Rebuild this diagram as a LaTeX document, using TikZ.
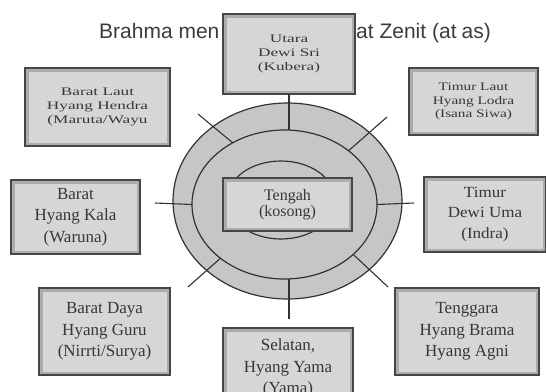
\documentclass[tikz,border=0pt]{standalone}
\usepackage{fontspec}
\setmainfont{Liberation Serif}
\newfontfamily\titlefont{Liberation Sans}
\newfontfamily\wideA[FakeStretch=1.5]{Liberation Serif}
\newfontfamily\wideB[FakeStretch=1.33]{Liberation Serif}
\newfontfamily\wideC[FakeStretch=1.1]{Liberation Serif}
\usetikzlibrary{shapes.geometric}
\definecolor{ringfill}{RGB}{198,198,198}
\definecolor{lineclr}{RGB}{50,50,50}
\definecolor{boxedge}{RGB}{70,70,70}
\definecolor{boxband}{RGB}{172,172,172}
\definecolor{boxin}{RGB}{214,214,214}
\definecolor{txt}{RGB}{55,55,55}
\definecolor{titleclr}{RGB}{60,60,60}
\tikzset{
  dbox/.style={rectangle, draw=boxedge, line width=1.3pt, fill=boxband,
    inner sep=0pt, outer sep=0pt, text=txt, align=center,
    path picture={\fill[boxin] ([shift={(3.5pt,3.5pt)}]path picture bounding box.south west)
      rectangle ([shift={(-3.5pt,-3.5pt)}]path picture bounding box.north east);}},
  ring/.style={ellipse, draw=lineclr, line width=1.2pt, fill=ringfill, inner sep=0pt, outer sep=0pt},
  conn/.style={draw=lineclr, line width=1.1pt},
  ttl/.style={inner sep=0pt, text=titleclr, font=\titlefont\fontsize{21}{24}\selectfont},
  smallwide/.style={font=\wideA\fontsize{11.5}{14.2}\selectfont},
  smallwideB/.style={font=\wideB\fontsize{11.5}{13.6}\selectfont},
  bigtxt/.style={font=\fontsize{17}{21.5}\selectfont},
}
\begin{document}
\begin{tikzpicture}[x=1pt,y=-1pt]
\useasboundingbox (0,0) rectangle (546,391);
% title
\node[ttl, anchor=base west] (title1) at (99,38) {Brahma men};
\node[ttl, anchor=base west] (title2) at (356,38) {at Zenit\hspace{6pt}(at\hspace{5pt}as)};
% ellipses
\node[ring, minimum width=229pt, minimum height=196pt] (outer) at (287.5,201) {};
\node[ring, minimum width=185pt, minimum height=149pt] (inner) at (284.5,204.5) {};
\node[ring, minimum width=108pt, minimum height=78pt] (small) at (281,200) {};
% boxes
\node[dbox, smallwide, minimum width=132pt, minimum height=80pt] (utara) at (289,54) {Utara\\Dewi Sri\\(Kubera)};
\node[dbox, smallwide, minimum width=145pt, minimum height=78pt] (baratlaut) at (97.5,107) {Barat Laut\\Hyang Hendra\\(Maruta/Wayu};
\node[dbox, smallwideB, minimum width=129pt, minimum height=67pt] (timurlaut) at (473.5,101.5) {Timur Laut\\Hyang Lodra\\(Isana Siwa)};
\node[dbox, bigtxt, minimum width=129pt, minimum height=74pt] (barat) at (75.5,217) {Barat\\Hyang Kala\\(Waruna)};
\node[dbox, font=\fontsize{16}{15.5}\selectfont, minimum width=129pt, minimum height=53pt] (tengah) at (287.5,204.5) {Tengah\\(kosong)};
\node[dbox, font=\wideC\fontsize{15.5}{20.7}\selectfont, minimum width=122pt, minimum height=75pt] (timur) at (485,214.5) {Timur\\Dewi Uma\\(Indra)};
\node[dbox, bigtxt, minimum width=131pt, minimum height=87pt] (baratdaya) at (104.5,331.5) {Barat Daya\\Hyang Guru\\(Nirrti/Surya)};
\node[dbox, bigtxt, minimum width=130pt, minimum height=80pt] (selatan) at (288,368) {Selatan,\\Hyang Yama\\(Yama)};
\node[dbox, bigtxt, minimum width=144pt, minimum height=87pt] (tenggara) at (467,331.5) {Tenggara\\Hyang Brama\\Hyang Agni};
% spokes
\coordinate (ulEnd) at (198,114);
\coordinate (urEnd) at (387,117);
\coordinate (llEnd) at (188,287);
\coordinate (lrEnd) at (388,287);
\coordinate (wEnd) at (155,203);
\coordinate (eEnd) at (414,203);
\coordinate (sEnd) at (289,319);
\draw[conn] (utara.south) -- (utara.south |- inner.north);
\draw[conn] (inner.south -| sEnd) -- (sEnd);
\draw[conn] (inner.180) -- (wEnd);
\draw[conn] (inner.0) -- (eEnd);
\draw[conn] (inner.130) -- (ulEnd);
\draw[conn] (inner.40) -- (urEnd);
\draw[conn] (inner.220) -- (llEnd);
\draw[conn] (inner.324) -- (lrEnd);
\end{tikzpicture}
\end{document}
